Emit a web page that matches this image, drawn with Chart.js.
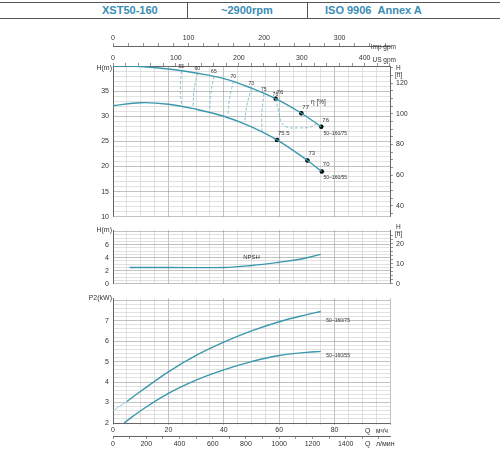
<!DOCTYPE html>
<html><head><meta charset="utf-8">
<script src="https://cdn.jsdelivr.net/npm/chart.js@4"></script>
<style>
body{margin:0;background:#fff;width:500px;height:450px;overflow:hidden;font-family:"Liberation Sans",Arial,sans-serif}
canvas{position:absolute;left:0}
#hdr{position:absolute;left:0;top:2px;width:500px;height:15px;border-top:1px solid #555;border-bottom:1px solid #555}
#hdr span{position:absolute;top:1px;font-weight:bold;font-size:11px;color:#3a8db5}
.dv{position:absolute;top:0;width:1px;height:15px;background:#555}
</style></head><body>
<div id="hdr">
<span style="left:102px">XST50-160</span>
<div class="dv" style="left:187px"></div>
<span style="left:221px">~2900rpm</span>
<div class="dv" style="left:307px"></div>
<span style="left:325px">ISO 9906 &nbsp;Annex A</span>
</div>
<canvas id="c1" width="500" height="205" style="top:20px"></canvas>
<canvas id="c2" width="500" height="70" style="top:222px"></canvas>
<canvas id="c3" width="500" height="160" style="top:290px"></canvas>
<script>
// ---- data ----
const qH75 = [0, 10, 20, 30, 40, 50, 58.7, 68, 75.2];
const h75  = [40, 39.9, 39.4, 38.6, 37.5, 35.6, 33.5, 30.6, 27.9];
const qH55 = [0, 10, 20, 30, 40, 50, 59.2, 70.2, 75.4];
const h55  = [32.1, 32.7, 32.4, 31.4, 30.0, 27.9, 25.3, 21.2, 19.0];
const ptQ75 = [58.7, 68, 75.2], ptH75 = [33.5, 30.6, 27.9], ptL75 = ['76', '77', '76'];
const ptQ55 = [59.2, 70.2, 75.4], ptH55 = [25.3, 21.2, 19.0], ptL55 = ['75.5', '73', '70'];
const effLabels = ['55', '60', '65', '70', '73', '75', '76'];
const effTopQ = [24.7, 30.5, 36.5, 43.5, 50, 54.5, 58.7];
const effTopH = [39.0, 38.6, 38.0, 37.0, 35.6, 34.5, 33.5];
const effBotQ = [24.7, 28.9, 34.9, 41.5, 47.5, 53.8];
const effBotH = [32.4, 32.1, 31.2, 30.2, 28.8, 26.8];
const loopQ = [58.7, 59.8, 60.8, 63, 67, 71, 73.5];
const loopH = [33.5, 31, 28.8, 27.8, 27.7, 27.8, 28.5];
const qN = [6, 20, 40, 50, 60, 68, 75];
const npsh = [2.5, 2.5, 2.5, 2.8, 3.3, 3.8, 4.5];
const qP75 = [5, 10, 20, 30, 40, 50, 60, 70, 75];
const p75 = [3.05, 3.55, 4.5, 5.3, 5.95, 6.5, 6.95, 7.3, 7.45];
const qP75a = [0, 5], p75a = [2.6, 3.05];
const qP55 = [4, 10, 20, 30, 40, 50, 60, 70, 75];
const p55 = [2.0, 2.6, 3.45, 4.1, 4.6, 5.0, 5.3, 5.45, 5.5];
const qTicks = [0, 20, 40, 60, 80];
const lminTicks = [0, 200, 400, 600, 800, 1000, 1200, 1400];
const usTicks = [0, 100, 200, 300, 400];
const impTicks = [0, 100, 200, 300];

const XMAX = 100, FT = 3.281;
const C = '#3a98ae', TXT = '#333';
const F = {size: 7, family: 'Liberation Sans'};
const xy = (a, b) => a.map((v, i) => ({x: v, y: b[i]}));
const isInt = (v, s) => Math.abs(v / s - Math.round(v / s)) < 1e-6;
const W = w => function (a) { a.width = w; };
const Hh = h => function (a) { a.height = h; };

const textPlugin = {
  id: 'txt',
  afterDraw(ch) {
    const items = ch.options.plugins.txt || [];
    const g = ch.ctx; g.save();
    items.forEach(t => {
      let x, y;
      if (t.px) { x = t.x; y = t.y; }
      else { x = ch.scales.x.getPixelForValue(t.x) + (t.dx || 0); y = ch.scales.y.getPixelForValue(t.y) + (t.dy || 0); }
      g.font = (t.s || 7) + 'px Liberation Sans';
      g.fillStyle = t.c || TXT; g.textAlign = t.a || 'left'; g.textBaseline = 'middle';
      g.fillText(t.t, x, y);
    });
    g.restore();
  }
};
Chart.register(textPlugin);

function xGrid() {
  return {type: 'linear', min: 0, max: XMAX, display: true,
    ticks: {display: false, stepSize: 5},
    grid: {color: c => isInt(c.tick.value, 20) ? '#999' : '#ccc', lineWidth: 0.6, drawTicks: false},
    border: {display: false}, afterFit: Hh(0)};
}
function line(data, color, dash, w) {
  return {type: 'line', data, borderColor: color, borderWidth: w || 1.4, pointRadius: 0,
    tension: 0.4, borderDash: dash || [], fill: false};
}
function tickAxis(pos, max, step, labels, h) {
  return {type: 'linear', position: pos, min: 0, max, afterFit: Hh(h),
    afterBuildTicks: a => { a.ticks = []; for (let v = 0; v <= max + 1e-6; v += step) a.ticks.push({value: v}); },
    ticks: {autoSkip: false, maxRotation: 0, font: F, color: TXT, padding: 1,
      callback: v => labels.includes(Math.round(v)) && isInt(v, 100) ? String(Math.round(v)) : ''},
    grid: {drawOnChartArea: false, color: '#666', tickLength: 3, lineWidth: 0.7},
    border: {color: '#666'}};
}

// ---- chart 1: head ----
const effDs = effBotQ.map((q, i) => line([{x: effTopQ[i], y: effTopH[i]}, {x: (effTopQ[i] + q) / 2 - 0.4, y: (effTopH[i] + effBotH[i]) / 2}, {x: q, y: effBotH[i]}], '#7fb8cc', [3, 2], 0.9));
new Chart(document.getElementById('c1'), {
  type: 'line',
  data: {datasets: [
    line(xy(qH75, h75), C), line(xy(qH55, h55), C),
    ...effDs,
    line(xy(loopQ, loopH), '#7fb8cc', [3, 2], 0.9),
    {type: 'scatter', data: xy(ptQ75, ptH75).concat(xy(ptQ55, ptH55)), backgroundColor: '#000', pointRadius: 2.2}
  ]},
  options: {
    animation: false, responsive: false, events: [],
    layout: {padding: {top: 0, bottom: 2, left: 0, right: 0}},
    plugins: {legend: {display: false}, tooltip: {enabled: false},
      txt: [
        ...ptL75.map((t, i) => ({x: ptQ75[i], y: ptH75[i], t, dx: 1, dy: -6, s: 6})),
        ...ptL55.map((t, i) => ({x: ptQ55[i], y: ptH55[i], t, dx: 1, dy: -7, s: 6})),
        ...effLabels.map((t, i) => ({x: effTopQ[i], y: effTopH[i], t, dx: -3, dy: -4, s: 5})),
        {x: 76, y: 26.6, t: '50–160/75', s: 5}, {x: 76, y: 17.8, t: '50–160/55', s: 5},
        {x: 71.5, y: 32.8, t: 'η [%]', s: 6.5},
        {px: 1, x: 112, y: 48, t: 'H(m)', a: 'right', s: 7},
        {px: 1, x: 396, y: 48, t: 'H', s: 6.5}, {px: 1, x: 395, y: 55, t: '[ft]', s: 6.5},
        {px: 1, x: 396, y: 27, t: 'Imp gpm', a: 'right', s: 6.5},
        {px: 1, x: 396, y: 40, t: 'US gpm', a: 'right', s: 6.5}
      ]},
    scales: {
      x: xGrid(),
      x3: tickAxis('top', XMAX * 4.403, 20, usTicks, 20),
      x4: tickAxis('top', XMAX * 3.666, 20, impTicks, 26),
      y: {type: 'linear', min: 10, max: 40, position: 'left', afterFit: W(113),
        ticks: {stepSize: 1, autoSkip: false, font: F, color: TXT, padding: 4,
          callback: v => isInt(v, 5) && v < 38 ? v : ''},
        grid: {color: c => isInt(c.tick.value, 5) ? '#999' : '#ccc', lineWidth: 0.6, drawTicks: false},
        border: {color: '#666'}},
      yr: {type: 'linear', min: 10 * FT, max: 40 * FT, position: 'right', afterFit: W(110),
        afterBuildTicks: a => { a.ticks = []; for (let v = 35; v <= 130; v += 5) a.ticks.push({value: v}); },
        ticks: {autoSkip: false, font: F, color: TXT, padding: 3, callback: v => isInt(v, 20) && v <= 120 ? v : ''},
        grid: {drawOnChartArea: false, color: '#666', tickLength: 3, lineWidth: 0.7}, border: {color: '#666'}}
    }
  }
});

// ---- chart 2: NPSH ----
new Chart(document.getElementById('c2'), {
  type: 'line',
  data: {datasets: [line(xy(qN, npsh), C)]},
  options: {
    animation: false, responsive: false, events: [],
    layout: {padding: {top: 4, bottom: 2}},
    plugins: {legend: {display: false}, tooltip: {enabled: false},
      txt: [{x: 47, y: 4.1, t: 'NPSH', s: 6},
        {px: 1, x: 112, y: 8, t: 'H(m)', a: 'right', s: 7},
        {px: 1, x: 396, y: 5, t: 'H', s: 6.5}, {px: 1, x: 395, y: 12, t: '[ft]', s: 6.5}]},
    scales: {
      x: xGrid(),
      y: {type: 'linear', min: 0, max: 8.2, position: 'left', afterFit: W(113),
        afterBuildTicks: a => { a.ticks = []; for (let v = 0; v <= 8; v += 0.5) a.ticks.push({value: v}); },
        ticks: {autoSkip: false, font: F, color: TXT, padding: 4, callback: v => isInt(v, 2) && v < 7 ? Math.round(v) : ''},
        grid: {color: c => isInt(c.tick.value, 2) ? '#999' : '#ccc', lineWidth: 0.6, drawTicks: false},
        border: {color: '#666'}},
      yr: {type: 'linear', min: 0, max: 8.2 * FT, position: 'right', afterFit: W(110),
        afterBuildTicks: a => { a.ticks = []; for (let v = 0; v <= 25; v += 2) a.ticks.push({value: v}); },
        ticks: {autoSkip: false, font: F, color: TXT, padding: 3, callback: v => isInt(v, 10) ? v : ''},
        grid: {drawOnChartArea: false, color: '#666', tickLength: 3, lineWidth: 0.7}, border: {color: '#666'}}
    }
  }
});

// ---- chart 3: power ----
const qAxis = tickAxis('bottom', XMAX, 5, [], 13);
qAxis.ticks.callback = v => qTicks.includes(Math.round(v)) && isInt(v, 20) ? String(Math.round(v)) : '';
qAxis.grid = {color: c => isInt(c.tick.value, 20) ? '#999' : '#ccc', lineWidth: 0.6, drawTicks: true, tickLength: 2};
const lAxis = tickAxis('bottom', XMAX * 16.667, 100, [], 14);
lAxis.ticks.callback = v => lminTicks.includes(Math.round(v)) && isInt(v, 200) ? String(Math.round(v)) : '';
new Chart(document.getElementById('c3'), {
  type: 'line',
  data: {datasets: [line(xy(qP75a, p75a), '#9fcbd8', [], 1), line(xy(qP75, p75), C), line(xy(qP55, p55), C)]},
  options: {
    animation: false, responsive: false, events: [],
    layout: {padding: {top: 2, right: 110, bottom: 0}},
    plugins: {legend: {display: false}, tooltip: {enabled: false},
      txt: [{x: 77, y: 7.0, t: '50–160/75', s: 5}, {x: 77, y: 5.27, t: '50–160/55', s: 5},
        {px: 1, x: 112, y: 8, t: 'P2(kW)', a: 'right', s: 7},
        {px: 1, x: 365, y: 141, t: 'Q', s: 7}, {px: 1, x: 376, y: 141, t: 'м³/ч', s: 6.5},
        {px: 1, x: 365, y: 154, t: 'Q', s: 7}, {px: 1, x: 376, y: 154, t: 'л/мин', s: 7}]},
    scales: {
      x: qAxis,
      x2: lAxis,
      y: {type: 'linear', min: 2, max: 8.1, position: 'left', afterFit: W(113),
        afterBuildTicks: a => { a.ticks = []; for (let v = 2; v <= 8.05; v += 0.2) a.ticks.push({value: v}); },
        ticks: {autoSkip: false, font: F, color: TXT, padding: 4, callback: v => isInt(v, 1) && v < 7.5 ? Math.round(v) : ''},
        grid: {color: c => isInt(c.tick.value, 1) ? '#999' : '#ccc', lineWidth: 0.6, drawTicks: false},
        border: {color: '#666'}}
    }
  }
});
</script></body></html>
